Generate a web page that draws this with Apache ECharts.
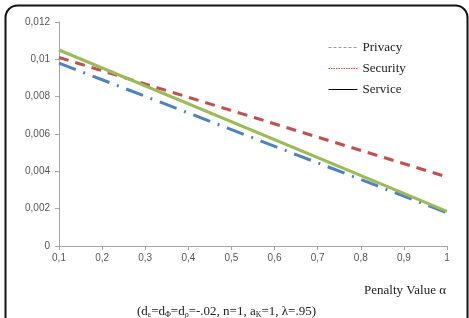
<!DOCTYPE html>
<html>
<head>
<meta charset="utf-8">
<script src="https://cdn.jsdelivr.net/npm/echarts@6/dist/echarts.min.js"></script>
<style>html,body{margin:0;padding:0;background:#fff}#c{width:469px;height:318px}</style>
</head>
<body>
<div id="c"></div>
<script>
// Data (x = penalty value alpha)
var alphaEnds = [0.1, 1];
var privacy = [0.0098, 0.00178];   // blue dash-dot
var security = [0.0101, 0.0037];   // red dashed
var service = [0.0105, 0.00185];   // green solid
var legendNames = ['Privacy', 'Security', 'Service'];
var xTitle = 'Penalty Value α';

function pairs(xs, ys) { return xs.map(function (x, i) { return [x, ys[i]]; }); }

var chart = echarts.init(document.getElementById('c'), null, {renderer: 'canvas'});
var serif = '"Liberation Serif", "DejaVu Serif", serif';
var sans = '"Liberation Sans", Arial, sans-serif';

chart.setOption({
  backgroundColor: '#fff',
  animation: false,
  grid: {left: 59, right: 22, top: 22, bottom: 72},
  legend: {
    orient: 'vertical', left: 323, top: 36, itemWidth: 29, itemHeight: 14, itemGap: 8,
    textStyle: {fontFamily: serif, fontSize: 13, color: '#222'},
    data: [
      {name: legendNames[0], itemStyle: {opacity: 0}, lineStyle: {color: '#999', width: 1, type: [3, 2]}},
      {name: legendNames[1], itemStyle: {opacity: 0}, lineStyle: {color: '#c0504d', width: 1, type: [1.5, 1]}},
      {name: legendNames[2], itemStyle: {opacity: 0}, lineStyle: {color: '#000', width: 1, type: 'solid'}}
    ]
  },
  xAxis: {
    type: 'value', min: 0.1, max: 1, interval: 0.1,
    name: xTitle, nameLocation: 'end',
    nameTextStyle: {fontFamily: serif, fontSize: 13, color: '#222', align: 'right', verticalAlign: 'top', padding: [38, 0, 0, 0]},
    nameGap: -1,
    axisLine: {lineStyle: {color: '#a6a6a6', width: 1}},
    axisTick: {show: true, length: 4, lineStyle: {color: '#a6a6a6'}},
    splitLine: {show: false},
    axisLabel: {
      margin: 7, fontFamily: sans, fontSize: 10, color: '#555',
      formatter: function (v) { var s = (Math.round(v * 10) / 10); return s === 1 ? '1' : s.toFixed(1).replace('.', ','); }
    }
  },
  yAxis: {
    type: 'value', min: 0, max: 0.012, interval: 0.002,
    axisLine: {show: true, lineStyle: {color: '#a6a6a6', width: 1}},
    axisTick: {show: true, length: 4, lineStyle: {color: '#a6a6a6'}},
    splitLine: {show: false},
    axisLabel: {
      margin: 9, fontFamily: sans, fontSize: 10, color: '#555',
      formatter: function (v) { if (Math.abs(v) < 1e-12) return '0'; return String(+v.toFixed(3)).replace('.', ','); }
    }
  },
  series: [
    {name: legendNames[0], type: 'line', symbol: 'none', data: pairs(alphaEnds, privacy),
     lineStyle: {color: '#4f81bd', width: 3, type: [18, 8, 2, 8]}, itemStyle: {color: '#4f81bd'}},
    {name: legendNames[1], type: 'line', symbol: 'none', data: pairs(alphaEnds, security),
     lineStyle: {color: '#c0504d', width: 3, type: [10, 7]}, itemStyle: {color: '#c0504d'}},
    {name: legendNames[2], type: 'line', symbol: 'none', data: pairs(alphaEnds, service),
     lineStyle: {color: '#9bbb59', width: 3, type: 'solid'}, itemStyle: {color: '#9bbb59'}}
  ],
  graphic: [
    {type: 'rect', left: 3, top: 3, shape: {width: 462, height: 340, r: 12}, z: -1,
     style: {fill: 'none', stroke: '#111', lineWidth: 2}, silent: true},
    {type: 'text', left: 137, top: 305, z: 10,
     style: {
       text: '(d{s|ε}=d{s|Φ}=d{s|ρ}=-.02, n=1, a{s|K}=1, λ=.95)',
       font: '13px ' + serif, fill: '#222',
       rich: {s: {fontSize: 8, fontFamily: serif, fill: '#222', verticalAlign: 'bottom', padding: [6, 0, 0, 0]}}
     }}
  ]
});
</script>
</body>
</html>
